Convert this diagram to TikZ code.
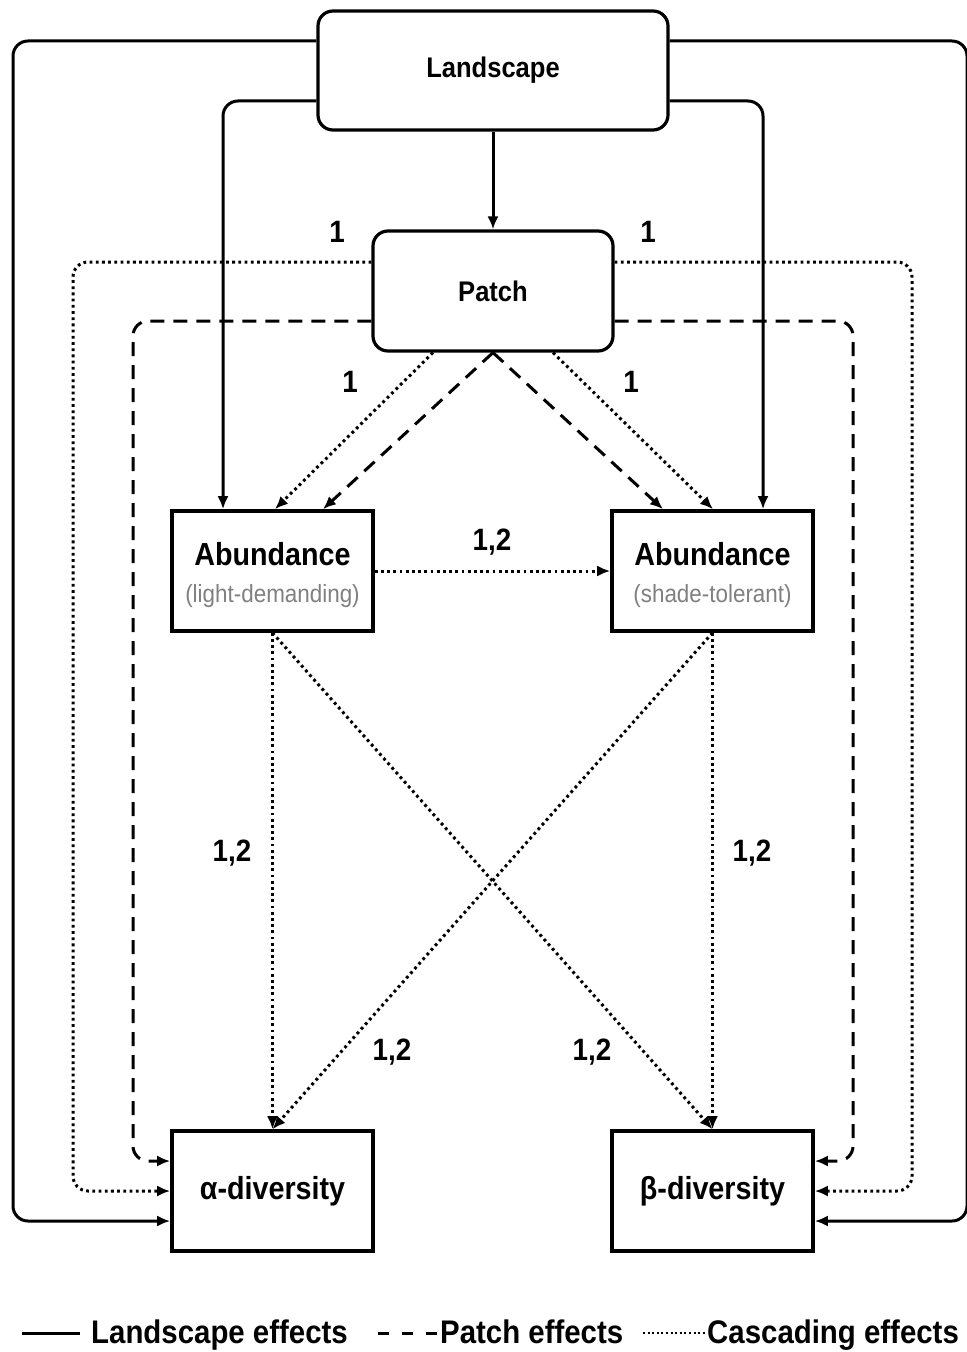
\documentclass[tikz,border=0pt]{standalone}
\usepackage{fontspec}
\setmainfont{Liberation Sans}
\newfontfamily\cond[FakeStretch=0.9]{Liberation Sans}
\usetikzlibrary{arrows.meta}

\tikzset{
  tip/.style={-{Latex[length=13bp,width=11bp]}},
  landfx/.style={tip, line width=3bp, rounded corners=15bp},
  patchfx/.style={tip, line width=3bp, dash pattern=on 14bp off 9bp, rounded corners=15bp},
  cascfx/.style={tip, line width=3bp, dash pattern=on 2.8bp off 3.4bp, rounded corners=15bp},
  rbox/.style={draw, line width=3.2bp, rounded corners=15bp, fill=white, align=center},
  sbox/.style={draw, line width=3.6bp, minimum width=201bp, minimum height=120bp, fill=white, align=center},
  mainlbl/.style={font=\cond\bfseries\fontsize{28.5}{30}\selectfont},
  boldlbl/.style={font=\cond\bfseries\fontsize{32}{35}\selectfont},
  numlbl/.style={font=\cond\bfseries\fontsize{31}{33}\selectfont},
  abund/.style={font=\cond\bfseries\fontsize{32}{37}\selectfont},
  keytext/.style={anchor=base west, inner sep=0pt, font=\cond\bfseries\fontsize{32.8}{35}\selectfont},
}
\newcommand\subline[1]{{\mdseries\fontsize{25}{28}\selectfont\color{black!50}#1}}

\begin{document}
\begin{tikzpicture}[x=1bp,y=-1bp]
\useasboundingbox (0,0) rectangle (966,1352);

% boxes
\node[rbox, minimum width=350bp, minimum height=119bp, mainlbl] (land) at (493,70.5) {Landscape};
\node[rbox, minimum width=240bp, minimum height=120bp, mainlbl] (patch) at (493,291) {Patch};
\node[sbox, abund] (ld) at (272.5,571) {\rule{0pt}{31bp}Abundance\\\subline{(light-demanding)}};
\node[sbox, abund] (st) at (712.5,571) {\rule{0pt}{31bp}Abundance\\\subline{(shade-tolerant)}};
\node[sbox, boldlbl] (alpha) at (272.5,1191) {α-diversity};
\node[sbox, boldlbl] (beta) at (712.5,1191) {β-diversity};

% landscape effects
\draw[landfx] (land.west |- 0,41) -- (13,41) -- (13,1221) -- (alpha.west |- 0,1221);
\draw[landfx] (land.east |- 0,41) -- (967,41) -- (967,1221) -- (beta.east |- 0,1221);
\draw[landfx] (land.west |- 0,101) -- (223,101) -- (ld.north -| 223,0);
\draw[landfx] (land.east |- 0,101) -- (763,101) -- (st.north -| 763,0);
\draw[landfx] (land.south) -- (patch.north);

% patch effects
\draw[patchfx] (patch.west |- 0,321) -- (133,321) -- (133,1161) -- (alpha.west |- 0,1161);
\draw[patchfx] (patch.east |- 0,321) -- (853,321) -- (853,1161) -- (beta.east |- 0,1161);
\draw[patchfx] (patch.south) -- (ld.north -| 323,0);
\draw[patchfx] (patch.south) -- (st.north -| 663,0);

% cascading effects
\draw[cascfx] (patch.west |- 0,262) -- (73,262) -- (73,1191) -- (alpha.west);
\draw[cascfx] (patch.east |- 0,262) -- (912,262) -- (912,1191) -- (beta.east);
\draw[cascfx] (patch.south -| 433,0) -- (ld.north -| 275,0);
\draw[cascfx] (patch.south -| 553,0) -- (st.north -| 713,0);
\draw[cascfx] (ld.east) -- (st.west);
\draw[cascfx] (ld.south) -- (alpha.north);
\draw[cascfx] (ld.south) -- (beta.north);
\draw[cascfx] (st.south) -- (beta.north);
\draw[cascfx] (st.south) -- (alpha.north);

% path labels
\node[numlbl] (n1) at (337,232) {1};
\node[numlbl] (n2) at (648,232) {1};
\node[numlbl] (n3) at (350,382) {1};
\node[numlbl] (n4) at (631,382) {1};
\node[numlbl] (n5) at (492,542) {1,2};
\node[numlbl] (n6) at (232,853) {1,2};
\node[numlbl] (n7) at (752,853) {1,2};
\node[numlbl] (n8) at (392,1052) {1,2};
\node[numlbl] (n9) at (592,1052) {1,2};

% legend
\coordinate (k1a) at (22,1333);
\coordinate (k1b) at (80,1333);
\coordinate (k2a) at (378,1333);
\coordinate (k2b) at (437,1333);
\coordinate (k3a) at (643,1333);
\coordinate (k3b) at (705,1333);
\draw[line width=3bp] (k1a) -- (k1b);
\draw[line width=3bp, dash pattern=on 11bp off 13bp] (k2a) -- (k2b);
\draw[line width=2.2bp, dash pattern=on 2bp off 2.6bp] (k3a) -- (k3b);
\node[keytext] (t1) at (91,1343) {Landscape effects};
\node[keytext] (t2) at (440,1343) {Patch effects};
\node[keytext] (t3) at (707,1343) {Cascading effects};
\end{tikzpicture}
\end{document}
